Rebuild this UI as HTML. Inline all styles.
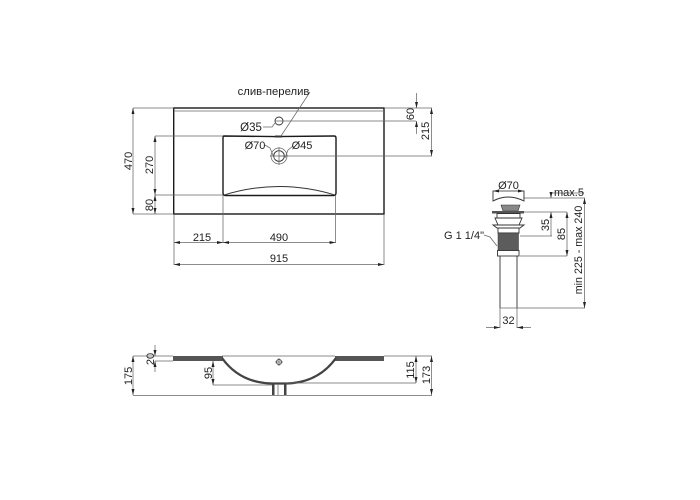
<!DOCTYPE html>
<html><head><meta charset="utf-8"><style>
html,body{margin:0;padding:0;background:#fff}
svg{display:block}
text{font-family:"Liberation Sans",sans-serif;font-size:11px;fill:#222;text-anchor:middle}
.t{stroke:#666;stroke-width:.75;fill:none}
.k{stroke:#1a1a1a;stroke-width:1.4;fill:none}
.m{stroke:#333;stroke-width:.9;fill:none}
</style></head><body>
<svg width="700" height="500" viewBox="0 0 700 500" xmlns="http://www.w3.org/2000/svg">
<defs>
<marker id="a" viewBox="0 0 8 4" refX="8" refY="2" markerWidth="6" markerHeight="3" markerUnits="userSpaceOnUse" orient="auto-start-reverse"><path d="M0 0L8 2L0 4Z" fill="#222"/></marker>
</defs>

<!-- top view -->
<rect x="173.700" y="108" width="210.300" height="106" class="k"/>
<path d="M174 111H384" class="t"/>
<path d="M224 136L275 136.600L334 136Q336 136 336 138V193Q336 195 334 195.500H225Q223 195 223 193V138Q223 136 224 136Z" class="k"/>
<path d="M224 195Q279 178 335 195" class="m"/>
<circle cx="279" cy="121" r="4" class="m"/>
<circle cx="279" cy="156" r="8" class="t"/>
<circle cx="279" cy="156" r="5.300" class="m"/>
<path d="M270 156H288M279 147V165" class="t"/>
<rect x="275" y="135.500" width="7" height="2" fill="#333"/>
<path d="M275 121H416" class="t"/>
<path d="M174 108H133M223 136H155M223 195H155M174 214H133" class="t"/>
<path d="M384 108H432M279 156H432" class="t"/>
<path d="M174 214V265M223 195V243M335.600 195V243M384 214V265" class="t"/>

<path d="M133 108V214" class="t" marker-start="url(#a)" marker-end="url(#a)"/>
<path d="M155 136V195" class="t" marker-start="url(#a)" marker-end="url(#a)"/>
<path d="M155 195V214" class="t" marker-start="url(#a)" marker-end="url(#a)"/>
<path d="M416.500 93V108" class="t" marker-end="url(#a)"/>
<path d="M416.500 134V121" class="t" marker-end="url(#a)"/>
<path d="M431.500 108V156" class="t" marker-start="url(#a)" marker-end="url(#a)"/>
<path d="M174 242.500H223" class="t" marker-start="url(#a)" marker-end="url(#a)"/>
<path d="M223 242.500H335.600" class="t" marker-start="url(#a)" marker-end="url(#a)"/>
<path d="M174 264.500H384" class="t" marker-start="url(#a)" marker-end="url(#a)"/>

<path d="M310 92L281 136" class="t"/>
<path d="M263 127H272L275 123" class="t"/>
<path d="M265 145L270 148L275 160" class="t"/>
<path d="M293 146L288 150L285 158" class="t"/>

<text x="273.500" y="95" style="font-size:11.300px">слив-перелив</text>
<text x="251" y="131" style="font-size:11.500px">Ø35</text>
<text x="255" y="149">Ø70</text>
<text x="302" y="149">Ø45</text>
<text transform="translate(132,161) rotate(-90)">470</text>
<text transform="translate(153,165) rotate(-90)">270</text>
<text transform="translate(153,205) rotate(-90)">80</text>
<text transform="translate(414,114) rotate(-90)">60</text>
<text transform="translate(429,131) rotate(-90)">215</text>
<text x="202" y="241">215</text>
<text x="279" y="241">490</text>
<text x="279" y="262">915</text>

<!-- drain -->
<path d="M493 191H524V201Q508 193 493 201Z" class="m"/>
<path d="M493 191H524" class="t" marker-start="url(#a)" marker-end="url(#a)"/>
<path d="M501 205H520L518 211H503Z" fill="#888" stroke="#333" stroke-width=".6"/>
<rect x="492" y="211" width="32" height="2.500" fill="#555"/>
<path d="M497 213.500H520V218H497Z" class="m"/>
<path d="M495 218H522L519 225H498Z" class="m"/>
<path d="M493 225H524L520 228H497Z" class="m"/>
<path d="M498 228H519V233H498Z" class="m"/>
<rect x="498" y="233" width="20.500" height="17.500" fill="#5c5c5c" stroke="#333" stroke-width=".5"/>
<rect x="497.500" y="250.500" width="21.500" height="5.500" fill="#fff" stroke="#333" stroke-width=".9"/>
<path d="M500 256V308M517 256V308" class="m"/>
<path d="M500 308H585" class="t"/>
<path d="M500 308V328M517 308V328" class="t"/>
<path d="M486 327.500H500" class="t" marker-end="url(#a)"/>
<path d="M531 327.500H517" class="t" marker-end="url(#a)"/>
<path d="M523 198H585" class="t"/>
<path d="M524 212H567" class="t"/>
<path d="M520 256H567" class="t"/>
<path d="M551 193H584" class="t"/>
<path d="M551 193V198" class="t" marker-end="url(#a)"/>
<path d="M551 212V236" class="t" marker-start="url(#a)"/>
<path d="M552 236H520" class="t"/>
<path d="M567 212V256" class="t" marker-start="url(#a)" marker-end="url(#a)"/>
<path d="M584.500 198V308" class="t" marker-start="url(#a)" marker-end="url(#a)"/>
<path d="M484 235L490 237L497 246" class="t"/>

<text x="508.500" y="189">Ø70</text>
<text x="569" y="196">max.5</text>
<text x="464" y="239">G 1 1/4"</text>
<text x="508.500" y="324">32</text>
<text transform="translate(549,225) rotate(-90)">35</text>
<text transform="translate(565,234) rotate(-90)">85</text>
<text transform="translate(582,250) rotate(-90)" style="font-size:10.700px">min 225 - max 240</text>

<!-- side view -->
<path d="M133 356H173M222 356H335M384 356H432" class="t"/>
<path d="M133 395.500H432" class="t"/>
<path d="M173 361H155" class="t"/>
<rect x="173" y="356" width="50" height="5" fill="#555"/>
<rect x="335" y="356" width="49" height="5" fill="#555"/>
<path d="M222 358C232 372 248 383 272 383.500H286C310 383 326 372 336 358" fill="none" stroke="#444" stroke-width="2.300"/>
<rect x="272" y="383" width="2.500" height="12" fill="#444"/>
<rect x="284" y="383" width="2.500" height="12" fill="#444"/>
<path d="M278 384V395" class="t"/>
<circle cx="279" cy="362" r="2.500" class="m"/>
<path d="M275 362H283M279 358V366" class="t"/>
<path d="M213 385H272M286 383H416" class="t"/>
<path d="M133 356V395" class="t" marker-start="url(#a)" marker-end="url(#a)"/>
<path d="M155 345V356" class="t" marker-end="url(#a)"/>
<path d="M155 372V361" class="t" marker-end="url(#a)"/>
<path d="M213 361V385" class="t" marker-start="url(#a)" marker-end="url(#a)"/>
<path d="M416 356V383" class="t" marker-start="url(#a)" marker-end="url(#a)"/>
<path d="M431.500 356V395" class="t" marker-start="url(#a)" marker-end="url(#a)"/>
<text transform="translate(132,376) rotate(-90)">175</text>
<text transform="translate(154,359) rotate(-90)">20</text>
<text transform="translate(212,373) rotate(-90)">95</text>
<text transform="translate(414,370) rotate(-90)">115</text>
<text transform="translate(430,375) rotate(-90)">173</text>
</svg>
</body></html>
